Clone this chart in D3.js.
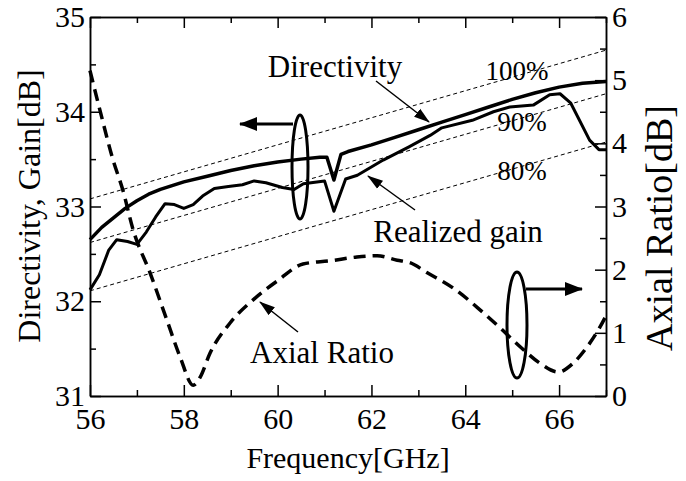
<!DOCTYPE html>
<html>
<head>
<meta charset="utf-8">
<script src="https://cdn.jsdelivr.net/npm/d3@7"></script>
<style>
  body { margin: 0; background: #fff; }
  text { font-family: "Liberation Serif", "DejaVu Serif", serif; fill: #000; }
</style>
</head>
<body>
<svg id="chart"></svg>
<script>
// directivity (left axis, dB)
var dirFreq = [56.0, 56.25, 56.5, 56.75, 57.0, 57.25, 57.5, 57.75, 58.0, 58.5, 59.0, 59.5, 60.0, 60.5, 60.9, 61.05, 61.2, 61.35, 61.5, 62.0, 62.5, 63.0, 63.5, 64.0, 64.5, 65.0, 65.5, 66.0, 66.5, 67.0];
var dirValue = [32.65, 32.78, 32.88, 32.98, 33.06, 33.13, 33.18, 33.22, 33.26, 33.32, 33.38, 33.43, 33.47, 33.50, 33.52, 33.52, 33.28, 33.55, 33.58, 33.65, 33.73, 33.81, 33.89, 33.97, 34.05, 34.13, 34.20, 34.26, 34.30, 34.32];

// realized gain (left axis, dB)
var gainFreq = [56.0, 56.2, 56.4, 56.57, 56.8, 57.0, 57.2, 57.4, 57.6, 57.8, 58.0, 58.2, 58.4, 58.65, 58.95, 59.25, 59.5, 59.75, 60.1, 60.35, 60.55, 61.0, 61.2, 61.45, 61.7, 62.25, 62.8, 63.25, 63.5, 64.15, 64.6, 64.95, 65.45, 65.8, 66.02, 66.25, 66.65, 66.85, 67.0];
var gainValue = [32.12, 32.28, 32.54, 32.65, 32.63, 32.60, 32.73, 32.89, 33.03, 33.02, 32.98, 33.02, 33.11, 33.19, 33.21, 33.23, 33.27, 33.25, 33.20, 33.18, 33.24, 33.27, 32.95, 33.29, 33.33, 33.49, 33.63, 33.75, 33.83, 33.91, 34.00, 34.05, 34.07, 34.18, 34.19, 34.09, 33.70, 33.60, 33.60];

// axial ratio (right axis, dB)
var arFreq = [56.0, 56.21, 56.49, 56.70, 56.92, 57.28, 57.64, 57.92, 58.2, 58.35, 58.56, 58.99, 59.52, 59.99, 60.54, 61.12, 61.69, 62.12, 62.55, 62.82, 63.19, 63.74, 64.32, 64.74, 65.17, 65.59, 65.98, 66.30, 66.60, 66.87, 67.0];
var arValue = [5.15, 4.53, 3.74, 3.26, 2.63, 1.95, 1.20, 0.62, 0.17, 0.30, 0.68, 1.16, 1.55, 1.82, 2.09, 2.14, 2.20, 2.22, 2.15, 2.11, 1.95, 1.71, 1.36, 1.08, 0.78, 0.52, 0.38, 0.52, 0.78, 1.09, 1.27];

// aperture efficiency reference lines (left axis)
var effLabels = ["100%", "90%", "80%"];
var effFreq = [56, 67];
var eff100 = [33.08, 34.65];
var eff90 = [32.62, 34.19];
var eff80 = [32.11, 33.68];

var xMajor = [56, 58, 60, 62, 64, 66];
var xMinor = [57, 59, 61, 63, 65, 67];
var leftMajor = [31, 32, 33, 34, 35];
var leftMinor = [31.5, 32.5, 33.5, 34.5];
var rightMajor = [0, 1, 2, 3, 4, 5, 6];
var rightMinor = [0.5, 1.5, 2.5, 3.5, 4.5, 5.5];

var screen = { width: 686, height: 481 };
var margins = { top: 17, bottom: 85, left: 90, right: 80 };
var plotRight = screen.width - margins.right;
var plotBottom = screen.height - margins.bottom;
var fam = '"Liberation Serif", "DejaVu Serif", serif';

var xScale = d3.scaleLinear().domain([56, 67]).range([margins.left, plotRight]);
var yLeft = d3.scaleLinear().domain([31, 35]).range([plotBottom, margins.top]);
var yRight = d3.scaleLinear().domain([0, 6]).range([plotBottom, margins.top]);

var svg = d3.select("#chart")
  .attr("width", screen.width)
  .attr("height", screen.height);

var defs = svg.append("defs");
defs.append("marker")
  .attr("id", "thin")
  .attr("markerUnits", "userSpaceOnUse")
  .attr("viewBox", "0 -6 16 12")
  .attr("refX", 15).attr("refY", 0)
  .attr("markerWidth", 16).attr("markerHeight", 12)
  .attr("orient", "auto")
  .append("path").attr("d", "M0,-5L16,0L0,5Z").attr("fill", "#000");
defs.append("marker")
  .attr("id", "thick")
  .attr("markerUnits", "userSpaceOnUse")
  .attr("viewBox", "0 -8 18 16")
  .attr("refX", 17).attr("refY", 0)
  .attr("markerWidth", 18).attr("markerHeight", 16)
  .attr("orient", "auto")
  .append("path").attr("d", "M0,-7L18,0L0,7Z").attr("fill", "#000");

// axes
function styleAxis(g) {
  g.attr("font-size", 30).attr("font-family", fam);
  g.selectAll("path, line").attr("stroke", "#000").attr("stroke-width", 1.5);
}
var fmt = d3.format("d");

svg.append("g")
  .attr("transform", "translate(0," + plotBottom + ")")
  .call(d3.axisBottom(xScale).tickValues(xMajor).tickFormat(fmt).tickSize(-11).tickSizeOuter(0).tickPadding(12))
  .call(styleAxis);
svg.append("g")
  .attr("transform", "translate(0," + plotBottom + ")")
  .call(d3.axisBottom(xScale).tickValues(xMinor).tickSize(-6).tickSizeOuter(0).tickFormat(""))
  .call(styleAxis);
svg.append("g")
  .attr("transform", "translate(0," + margins.top + ")")
  .call(d3.axisTop(xScale).tickValues(xMajor).tickSize(-11).tickSizeOuter(0).tickFormat(""))
  .call(styleAxis);
svg.append("g")
  .attr("transform", "translate(0," + margins.top + ")")
  .call(d3.axisTop(xScale).tickValues(xMinor).tickSize(-6).tickSizeOuter(0).tickFormat(""))
  .call(styleAxis);

svg.append("g")
  .attr("transform", "translate(" + margins.left + ",0)")
  .call(d3.axisLeft(yLeft).tickValues(leftMajor).tickFormat(fmt).tickSize(-11).tickSizeOuter(0).tickPadding(5))
  .call(styleAxis);
svg.append("g")
  .attr("transform", "translate(" + margins.left + ",0)")
  .call(d3.axisLeft(yLeft).tickValues(leftMinor).tickSize(-6).tickSizeOuter(0).tickFormat(""))
  .call(styleAxis);

svg.append("g")
  .attr("transform", "translate(" + plotRight + ",0)")
  .call(d3.axisRight(yRight).tickValues(rightMajor).tickFormat(fmt).tickSize(-11).tickSizeOuter(0).tickPadding(6))
  .call(styleAxis);
svg.append("g")
  .attr("transform", "translate(" + plotRight + ",0)")
  .call(d3.axisRight(yRight).tickValues(rightMinor).tickSize(-6).tickSizeOuter(0).tickFormat(""))
  .call(styleAxis);

// axis titles
svg.append("text")
  .attr("x", 348).attr("y", 468)
  .attr("text-anchor", "middle")
  .attr("font-size", 30)
  .text("Frequency[GHz]");
svg.append("text")
  .attr("transform", "translate(40,206) rotate(-90)")
  .attr("text-anchor", "middle")
  .attr("font-size", 32)
  .text("Directivity, Gain[dB]");
svg.append("text")
  .attr("transform", "translate(672,228) rotate(-90)")
  .attr("text-anchor", "middle")
  .attr("font-size", 38)
  .text("Axial Ratio[dB]");

// efficiency reference lines
var effLine = d3.line()
  .x(function(d) { return xScale(d[0]); })
  .y(function(d) { return yLeft(d[1]); });
var effSets = [eff100, eff90, eff80];
effSets.forEach(function(vals) {
  svg.append("path")
    .attr("d", effLine(d3.zip(effFreq, vals)))
    .attr("fill", "none")
    .attr("stroke", "#000")
    .attr("stroke-width", 1)
    .attr("stroke-dasharray", "4,3");
});

// data curves
var lineLeft = d3.line()
  .x(function(d) { return xScale(d[0]); })
  .y(function(d) { return yLeft(d[1]); });
var lineRight = d3.line()
  .x(function(d) { return xScale(d[0]); })
  .y(function(d) { return yRight(d[1]); })
  .curve(d3.curveMonotoneX);

svg.append("path")
  .attr("d", lineLeft(d3.zip(dirFreq, dirValue)))
  .attr("fill", "none").attr("stroke", "#000")
  .attr("stroke-width", 3.5).attr("stroke-linejoin", "round");
svg.append("path")
  .attr("d", lineLeft(d3.zip(gainFreq, gainValue)))
  .attr("fill", "none").attr("stroke", "#000")
  .attr("stroke-width", 3).attr("stroke-linejoin", "round");
svg.append("path")
  .attr("d", lineRight(d3.zip(arFreq, arValue)))
  .attr("fill", "none").attr("stroke", "#000")
  .attr("stroke-width", 3.5)
  .attr("stroke-dasharray", "12,7");

// efficiency labels
var effLabelPos = [[517, 80], [522, 131], [522, 180]];
effLabels.forEach(function(t, i) {
  svg.append("text")
    .attr("x", effLabelPos[i][0]).attr("y", effLabelPos[i][1])
    .attr("text-anchor", "middle")
    .attr("font-size", 27)
    .text(t);
});

// annotations
svg.append("text").attr("x", 335).attr("y", 77).attr("text-anchor", "middle")
  .attr("font-size", 31).text("Directivity");
svg.append("line").attr("x1", 376).attr("y1", 81).attr("x2", 429).attr("y2", 122)
  .attr("stroke", "#000").attr("stroke-width", 1.5).attr("marker-end", "url(#thin)");

svg.append("text").attr("x", 458).attr("y", 242).attr("text-anchor", "middle")
  .attr("font-size", 31).text("Realized gain");
svg.append("line").attr("x1", 415).attr("y1", 210).attr("x2", 368).attr("y2", 176)
  .attr("stroke", "#000").attr("stroke-width", 1.5).attr("marker-end", "url(#thin)");

svg.append("text").attr("x", 322).attr("y", 363).attr("text-anchor", "middle")
  .attr("font-size", 31).text("Axial Ratio");
svg.append("line").attr("x1", 298).attr("y1", 332).attr("x2", 260).attr("y2", 302)
  .attr("stroke", "#000").attr("stroke-width", 1.5).attr("marker-end", "url(#thin)");

// ellipses with axis-pointing arrows
svg.append("ellipse").attr("cx", 300).attr("cy", 167).attr("rx", 8).attr("ry", 52)
  .attr("fill", "none").attr("stroke", "#000").attr("stroke-width", 3);
svg.append("line").attr("x1", 293).attr("y1", 124).attr("x2", 240).attr("y2", 124)
  .attr("stroke", "#000").attr("stroke-width", 3).attr("marker-end", "url(#thick)");

svg.append("ellipse").attr("cx", 517).attr("cy", 325).attr("rx", 10).attr("ry", 53)
  .attr("fill", "none").attr("stroke", "#000").attr("stroke-width", 3);
svg.append("line").attr("x1", 526).attr("y1", 289).attr("x2", 582).attr("y2", 289)
  .attr("stroke", "#000").attr("stroke-width", 3).attr("marker-end", "url(#thick)");
</script>
</body>
</html>
